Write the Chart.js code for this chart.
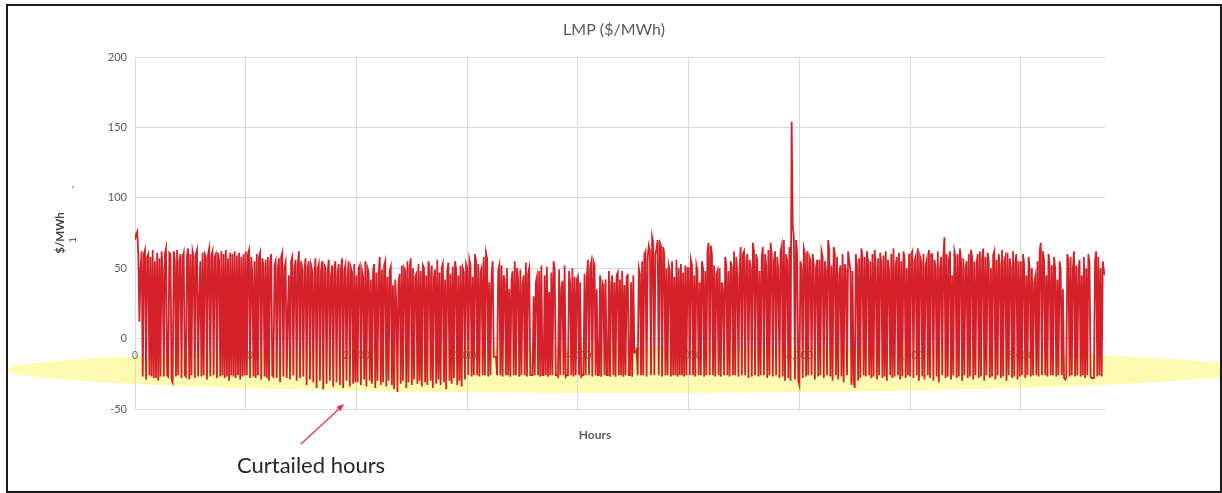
<!DOCTYPE html>
<html>
<head>
<meta charset="utf-8">
<title>LMP ($/MWh)</title>
<script src="https://cdn.jsdelivr.net/npm/chart.js@4.4.1/dist/chart.umd.min.js"></script>
<style>
  html, body { margin:0; padding:0; background:#fff; }
  #wrap { position:relative; width:1222px; height:493px; overflow:hidden; }
  #frame { position:absolute; left:6px; top:4px; width:1212px; height:485px; border:2px solid #1a1a1a; pointer-events:none; }
  #chart { position:absolute; left:0; top:0; }
</style>
</head>
<body>
<div id="wrap">
  <canvas id="chart" width="1222" height="493"></canvas>
  <div id="frame"></div>
</div>
<script>
// --- Data (one value every 10 hours) ---
const SAMPLE_HOURS = 10;
const xTicks = [0, 1000, 2000, 3000, 4000, 5000, 6000, 7000, 8000];
const yTicks = [-50, 0, 50, 100, 150, 200];

const lmpValues = [
  // 0 - 990
  70, 74, 76, 60, 12, 50, 62, -27, 60, 63, -29, 58, 60, -26, 58, -27, 63, -28, 55, -28, 61, -30, 57, -27, 62,
  48, -27, 60, 64, -26, -27, 61, 60, -29, -31, 62, 55, -27, 63, -26, 55, 60, -28, 58, 61, -26, -27, 59, 64, -29,
  60, -26, 62, 58, -28, 60, 63, -27, 30, 55, -27, 61, -26, 60, 58, -29, 60, 64, -27, 59, 62, -26, 58, 60, -28,
  61, 55, -27, 62, -26, 60, -28, 63, -27, 57, -30, 61, -26, 60, -27, 62, -28, 59, -26, 61, -29, 58, -27, 60, -26,
  // 1000 - 1990
  62, -26, 60, 63, -28, 58, 45, -27, 55, -28, 60, -26, 58, 61, -29, 57, 52, -27, 56, -28, 58, -30, 54, 60, -26,
  -27, 52, 55, -28, 50, 57, -31, 58, 61, -27, 50, 54, -28, 20, 45, -29, 55, 58, -26, 50, 56, -30, 52, 62, -28,
  55, 50, -27, 48, 57, -33, 50, 55, -29, 52, 48, -31, 45, 57, -35, 50, 53, -30, 48, 55, -36, 52, 50, -32, 47,
  56, -30, 44, 52, -34, 50, 55, -31, 46, 53, -33, 49, 57, -35, 48, 52, -30, 45, 55, -34, 50, 47, -32, 53, -31,
  // 2000 - 2990
  45, -31, 50, 52, -33, 48, 44, -29, 55, -34, 50, 47, -30, 42, -32, 48, 53, -35, 47, -30, 45, 58, -33, 49, -31,
  52, 55, -34, 44, -30, 48, 51, -33, 38, -36, 42, 25, -38, 40, 46, -32, 52, -30, 50, 48, -35, 55, -31, 50, 57,
  -33, 50, -29, 44, 46, -32, 53, -30, 48, -34, 52, 50, -31, 45, -33, 55, 48, -30, 52, -35, 44, 49, -32, 56, -29,
  47, -33, 50, 53, -31, 42, -36, 48, 54, -30, 46, -32, 51, -28, 55, 49, -33, 45, -30, 52, -34, 50, 47, -29, 53,
  // 3000 - 3990
  50, -26, 56, 52, -27, 44, -26, 60, 55, -26, 53, -27, 47, 50, -26, 58, -26, 61, 57, -27, 40, -26, 45, 55, -13,
  -13, -13, -26, 48, 52, -26, 52, -27, 45, 40, -26, 50, -26, 35, -27, 42, 48, -26, 55, -26, 50, 42, -27, 49, -26,
  38, 45, -26, 54, -27, 46, 50, -26, -26, -26, 30, -26, 40, 44, -26, 48, -27, 52, -26, -26, 45, -26, 51, -27, 33,
  -26, 47, -26, 55, 50, -26, -26, -27, 49, -26, 36, 41, -26, 52, -27, -26, -26, 48, 39, -26, 50, -27, 44, -26, 42,
  // 4000 - 4990
  44, -26, 40, -27, -26, -26, 46, -26, 42, 56, -26, 50, 54, -27, 55, 52, -26, 35, -26, -26, 45, -27, 40, 38, -26,
  42, -26, -26, 48, -27, 38, 45, -26, 40, -27, 45, 47, -26, 42, -26, 48, -27, 38, -26, 44, 45, -26, -26, 40, -27,
  45, -10, -10, -8, -26, 50, 46, -26, 55, -26, 60, 62, -27, 58, 66, 62, -26, 72, 68, -26, 60, 64, 70, -26, 68,
  66, -27, 65, 60, -26, 50, -26, 52, 48, -27, 55, -26, 44, -26, 56, -27, 50, -26, 53, -26, 47, -27, 52, -26, 50,
  // 5000 - 5990
  50, -26, 56, 52, -26, 45, -27, 52, 48, -26, 40, -26, 55, 50, -27, 48, -26, 62, 68, -26, 66, 60, -26, 52, -27,
  45, 48, -26, 50, -27, 40, 35, -26, 58, 52, -26, 48, -27, 55, 50, -26, 62, -26, 58, 44, -27, 50, 65, -26, 60,
  62, -26, 55, 60, -28, 56, 50, -27, 68, 62, -26, 60, 55, -27, 48, -26, 58, 65, -26, 60, 52, -28, 63, -26, 68,
  60, -27, 55, 62, -26, 58, 48, -28, 62, 66, -27, 70, -30, 60, 55, -28, 65, -30, 154, 80, 72, -29, 70, 60, -30,
  // 6000 - 6990
  -33, 55, 50, -28, 64, 60, -27, 62, -26, 58, 55, -26, 60, 52, -29, 50, 56, -27, 56, -26, 62, 58, -28, 55, 48,
  -26, 70, 62, -27, 52, -30, 65, 60, -26, 58, -29, 45, 52, -27, 60, -31, 53, 48, -26, 62, 55, 50, -33, 48, -30,
  -35, 60, 52, -30, 57, -28, 64, 58, -26, 58, -27, 62, 55, -26, 55, -28, 60, -27, 63, 50, -29, 57, -26, 61, 54,
  -28, 59, -27, 62, -30, 56, 48, -26, 60, -28, 64, -27, 52, 58, -26, 61, -29, 55, -27, 62, 57, -28, 50, -26, 60,
  // 7000 - 7990
  -27, 60, 62, -28, 55, 58, -26, 64, -30, 58, 55, -27, 60, -29, 52, 56, -26, 63, -28, 60, 60, -30, 56, 50, -27,
  62, -31, 50, 58, -26, 58, 72, -28, 60, -27, 55, 62, -29, 45, -26, 62, 58, -28, 60, -27, 64, 55, -30, 57, -26,
  50, 55, -28, 60, -27, 63, 58, -29, 55, -26, 52, 60, -28, 62, -27, 57, 64, -30, 58, -26, 61, 55, -28, 50, -27,
  59, 62, -29, 56, -26, 60, 52, -28, 63, -27, 55, 58, -30, 61, -26, 57, 50, -28, 62, -27, 54, 60, -29, 55, -27,
  // 8000 - 8760
  55, -26, 60, 52, -28, 45, -26, 58, 50, -27, 50, -26, 40, 44, -26, 55, -27, 62, 68, -26, 62, 55, -26, 45, -27,
  60, 52, -26, 52, -26, 58, 50, -27, 42, -26, 55, 48, -26, 35, -28, -29, -28, 60, 55, -27, 58, -26, 50, 62, -27,
  52, -26, 48, 56, -27, 45, -26, 58, -28, 50, -26, 60, 53, -27, -28, -28, -28, 55, 62, -27, 58, -26, 50, -27, 55,
  48, 45
];

const lmpPoints = lmpValues.map((v, i) => ({ x: i * SAMPLE_HOURS, y: v }));

// --- Yellow highlight behind the curtailed band ---
const highlight = {
  id: 'highlight',
  beforeDraw(chart){
    const ctx = chart.ctx;
    ctx.save();
    ctx.fillStyle = '#fdfbb0';
    ctx.beginPath();
    ctx.ellipse(628, 370, 622, 23, 0, 0, Math.PI * 2);
    ctx.fill();
    ctx.restore();
  }
};

// --- Chart title, axis title, callout text and arrow ---
const notes = {
  id: 'notes',
  afterDraw(chart){
    const ctx = chart.ctx;
    ctx.save();
    ctx.textAlign = 'center';
    ctx.textBaseline = 'middle';

    ctx.fillStyle = '#595959';
    ctx.font = '16px Lato';
    ctx.fillText('LMP ($/MWh)', 614, 30);

    ctx.font = 'bold 12px Lato';
    ctx.fillText('Hours', 595, 435);

    // small stray marks next to the y title
    ctx.fillStyle = '#333';
    ctx.font = '9px Lato';
    ctx.fillText("'", 73, 190);
    ctx.save();
    ctx.translate(73, 240);
    ctx.rotate(-Math.PI / 2);
    ctx.fillText('1', 0, 0);
    ctx.restore();

    ctx.fillStyle = '#262626';
    ctx.font = '22px Lato';
    ctx.textAlign = 'left';
    ctx.textBaseline = 'alphabetic';
    ctx.fillText('Curtailed hours', 237, 473);

    // arrow
    ctx.strokeStyle = '#e0393e';
    ctx.fillStyle = '#e0393e';
    ctx.lineWidth = 1.3;
    ctx.beginPath();
    ctx.moveTo(301, 444);
    ctx.lineTo(340, 408);
    ctx.stroke();
    const ang = Math.atan2(408 - 444, 340 - 301);
    ctx.beginPath();
    ctx.moveTo(344, 404);
    ctx.lineTo(344 - 8 * Math.cos(ang - 0.4), 404 - 8 * Math.sin(ang - 0.4));
    ctx.lineTo(344 - 8 * Math.cos(ang + 0.4), 404 - 8 * Math.sin(ang + 0.4));
    ctx.closePath();
    ctx.fill();
    ctx.restore();
  }
};

const gridColor = '#d9d9d9';
const tickColor = '#595959';

new Chart(document.getElementById('chart'), {
  type: 'line',
  data: {
    datasets: [{
      data: lmpPoints,
      borderColor: '#d42029',
      borderWidth: 1.8,
      pointRadius: 0,
      tension: 0,
      fill: false
    }]
  },
  options: {
    responsive: false,
    animation: false,
    layout: { padding: { left: 0, right: 117, top: 57, bottom: 84 } },
    plugins: {
      legend: { display: false },
      tooltip: { enabled: false },
      title: { display: false }
    },
    scales: {
      x: {
        type: 'linear',
        min: 0,
        max: 8760,
        position: { y: 0 },
        afterBuildTicks: s => { s.ticks = xTicks.map(v => ({ value: v })); },
        ticks: { color: '#6b6b6b', font: { family: 'Lato', size: 10.5 }, padding: 11, maxRotation: 0 },
        grid: { color: gridColor, drawTicks: false },
        border: { display: false }
      },
      y: {
        min: -50,
        max: 200,
        afterBuildTicks: s => { s.ticks = yTicks.map(v => ({ value: v })); },
        afterFit: s => { s.width = 135; },
        ticks: { color: tickColor, font: { family: 'Lato', size: 11 }, padding: 8 },
        grid: { color: gridColor, drawTicks: false },
        border: { display: false },
        title: {
          display: true,
          text: '$/MWh',
          color: '#404040',
          font: { family: 'Lato', size: 11.5, weight: 'bold' },
          padding: { top: 53, bottom: 0 }
        }
      }
    }
  },
  plugins: [highlight, notes]
});
</script>
</body>
</html>
